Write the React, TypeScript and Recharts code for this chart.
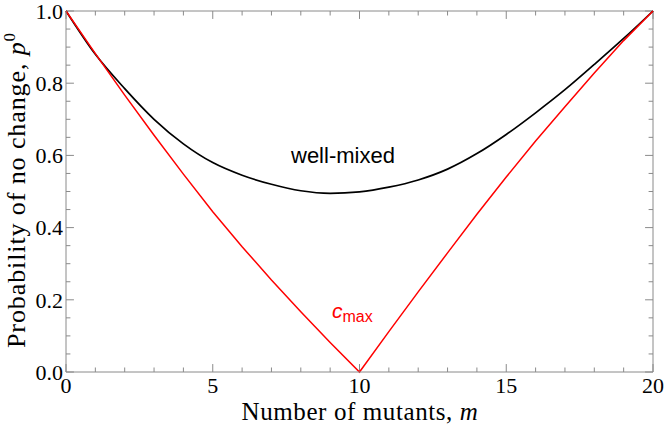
import { LineChart, Line, XAxis, YAxis, ReferenceLine } from "recharts"

const mutants = [0, 1, 2, 3, 4, 5, 6, 7, 8, 9, 10, 11, 12, 13, 14, 15, 16, 17, 18, 19, 20]
const wellMixed = [
  1.0, 0.88, 0.785, 0.7, 0.632, 0.58, 0.545, 0.52, 0.502, 0.495, 0.499, 0.512, 0.532, 0.562,
  0.605, 0.658, 0.718, 0.782, 0.852, 0.924, 1.0,
]
const cMax = [
  1.0, 0.882, 0.767, 0.656, 0.548, 0.444, 0.347, 0.255, 0.167, 0.082, 0.0, 0.112, 0.222, 0.33,
  0.437, 0.54, 0.64, 0.735, 0.828, 0.918, 1.0,
]

const xTicks = [0, 1, 2, 3, 4, 5, 6, 7, 8, 9, 10, 11, 12, 13, 14, 15, 16, 17, 18, 19, 20]
const xMajor = [0, 5, 10, 15, 20]
const yTicks = [
  0, 0.05, 0.1, 0.15, 0.2, 0.25, 0.3, 0.35, 0.4, 0.45, 0.5, 0.55, 0.6, 0.65, 0.7, 0.75, 0.8,
  0.85, 0.9, 0.95, 1,
]
const yMajor = [0, 0.2, 0.4, 0.6, 0.8, 1]

const chartData = mutants.map((m, i) => ({ m, wellMixed: wellMixed[i], cMax: cMax[i] }))

const AXIS = "#8a8a8a"
const SERIF = "'Liberation Serif', 'Times New Roman', serif"
const SANS = "'Liberation Sans', Arial, sans-serif"

// tick lengths in data units (about 8px major, 4.5px minor)
const X_MAJ = 0.27
const X_MIN = 0.15
const Y_MAJ = 0.022
const Y_MIN = 0.0125

// frame ticks pointing inward on all four sides
const frameTicks: { x: number; y: number }[][] = []
xTicks.forEach((t) => {
  const len = xMajor.includes(t) ? Y_MAJ : Y_MIN
  frameTicks.push([{ x: t, y: 0 }, { x: t, y: len }])
  frameTicks.push([{ x: t, y: 1 }, { x: t, y: 1 - len }])
})
yTicks.forEach((t) => {
  const len = yMajor.includes(t) ? X_MAJ : X_MIN
  frameTicks.push([{ x: 0, y: t }, { x: len, y: t }])
  frameTicks.push([{ x: 20, y: t }, { x: 20 - len, y: t }])
})

export default function App() {
  return (
    <div style={{ width: 664, height: 428, background: "#fff" }}>
      <style>{`body{margin:0}`}</style>
      <LineChart
        width={664}
        height={428}
        data={chartData}
        margin={{ top: 11, right: 11, left: 0, bottom: 0 }}
      >
        <XAxis
          dataKey="m"
          type="number"
          domain={[0, 20]}
          ticks={xMajor}
          interval={0}
          height={56}
          stroke={AXIS}
          tickLine={false}
          tickSize={0}
          tickMargin={5}
          tick={{ fill: "#000", fontSize: 22, fontFamily: SERIF }}
        />
        <YAxis
          type="number"
          domain={[0, 1]}
          ticks={yMajor}
          interval={0}
          width={66}
          stroke={AXIS}
          tickLine={false}
          tickSize={0}
          tickMargin={3}
          tickFormatter={(v: number) => v.toFixed(1)}
          tick={{ fill: "#000", fontSize: 22, fontFamily: SERIF }}
        />
        <ReferenceLine y={1} stroke={AXIS} />
        <ReferenceLine x={20} stroke={AXIS} />
        {frameTicks.map((seg, i) => (
          <ReferenceLine key={`tick-${i}`} segment={seg} stroke={AXIS} />
        ))}
        <Line
          dataKey="wellMixed"
          type="monotone"
          stroke="#000"
          strokeWidth={1.7}
          dot={false}
          isAnimationActive={false}
        />
        <Line
          dataKey="cMax"
          type="linear"
          stroke="#ff0000"
          strokeWidth={1.5}
          dot={false}
          isAnimationActive={false}
        />
        <text x={291} y={163} fontSize={22} fontFamily={SANS} fill="#000">
          well-mixed
        </text>
        <text x={332} y={318} fontSize={21} fontFamily={SANS} fontStyle="italic" fill="#ff0000">
          c
          <tspan fontSize={16} fontStyle="normal" dy={4}>
            max
          </tspan>
        </text>
        <text
          x={360}
          y={420}
          textAnchor="middle"
          fontSize={25}
          letterSpacing={0.6}
          fontFamily={SERIF}
          fill="#000"
        >
          Number of mutants, <tspan fontStyle="italic">m</tspan>
        </text>
        <text
          transform="translate(25,190) rotate(-90)"
          textAnchor="middle"
          fontSize={26}
          letterSpacing={0.9}
          fontFamily={SERIF}
          fill="#000"
        >
          Probability of no change, <tspan fontStyle="italic">p</tspan>
          <tspan fontSize={17} dy={-10}>
            0
          </tspan>
        </text>
      </LineChart>
    </div>
  )
}
